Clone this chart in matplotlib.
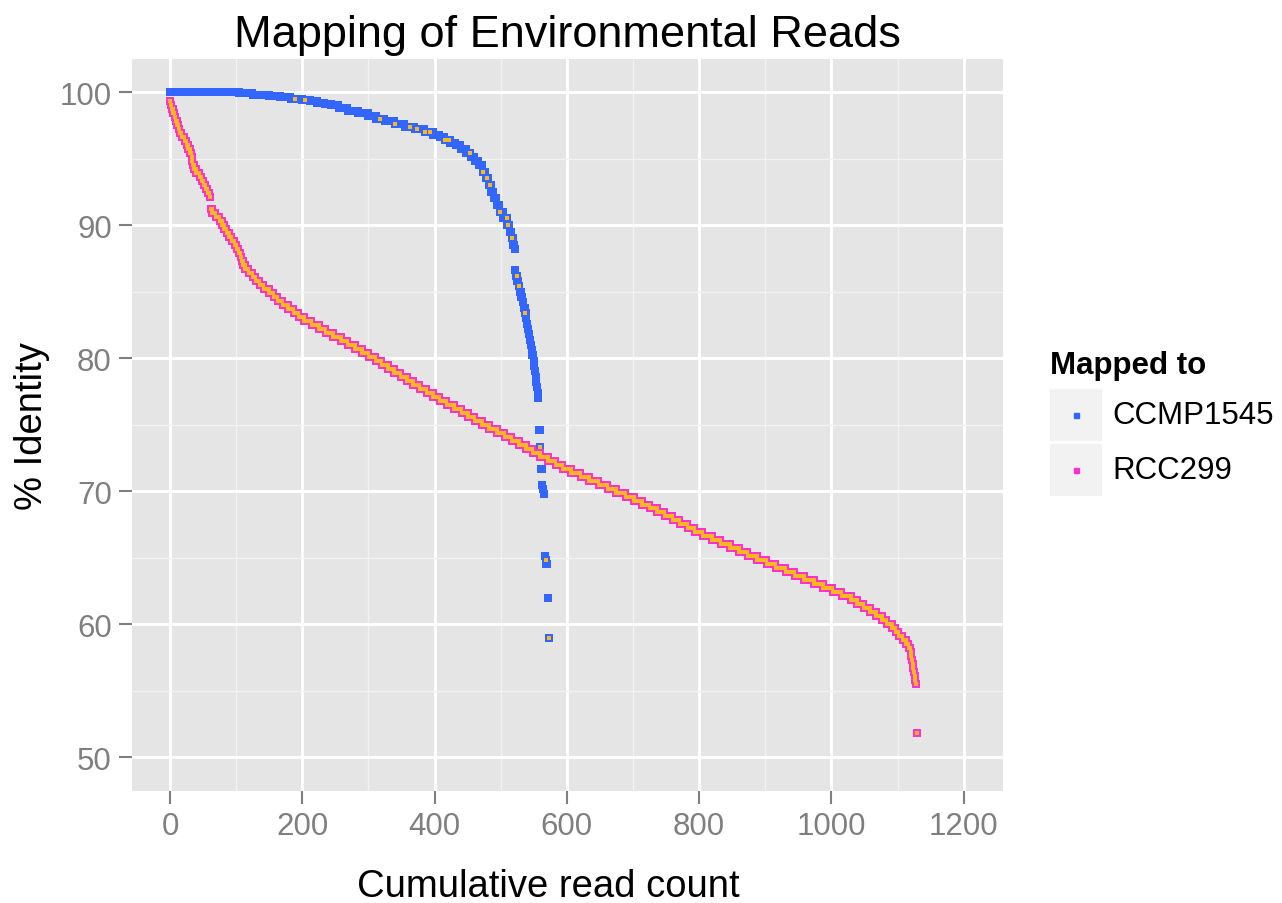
import numpy as np
import matplotlib.pyplot as plt
from matplotlib.patches import Rectangle
from matplotlib.lines import Line2D

plt.rcParams['font.family'] = ['Liberation Sans', 'DejaVu Sans']

# --- Datos: % identidad de las lecturas, ordenada de mayor a menor ---
# cada nivel de identidad con el nº de lecturas que caen en él
ccmp_identity = [100.0, 99.9, 99.8, 99.7, 99.6, 99.5, 99.4, 99.3, 99.2, 99.1,
                 99.0, 98.8, 98.6, 98.4, 98.2, 98.0, 97.8, 97.6, 97.4, 97.2,
                 97.0, 96.8, 96.6, 96.4, 96.2, 96.0, 95.7, 95.4, 95.1, 94.8,
                 94.5, 94.0, 93.5, 93.0, 92.5, 92.0, 91.5, 91.0, 90.5, 90.0,
                 89.5, 89.0, 88.5, 88.2, 86.6, 86.2, 85.8, 85.4, 85.0, 84.6,
                 84.2, 83.8, 83.4, 83.0, 82.6, 82.2, 81.8, 81.4, 81.0, 80.6,
                 80.2, 79.8, 79.4, 79.0, 78.6, 78.2, 77.8, 77.4, 77.0, 74.6,
                 73.3, 71.7, 70.5, 70.2, 69.8, 65.1, 64.8, 64.5, 62.0, 59.0]
ccmp_counts = [105, 20, 25, 17, 16, 17, 12, 11, 11, 10,
               11, 14, 16, 15, 12, 13, 15, 15, 15, 15,
               13, 10, 8, 8, 8, 8, 8, 7, 6, 6,
               6, 5, 4, 4, 4, 4, 5, 5, 6, 4,
               3, 2, 2, 1, 1, 2, 2, 2, 2, 2,
               2, 2, 2, 1, 1, 2, 1, 2, 1, 1,
               2, 1, 1, 1, 1, 1, 1, 1, 1, 2,
               1, 2, 1, 1, 2, 1, 1, 2, 2, 1]
# lecturas de CCMP1545 que salen con relleno naranja
ccmp_flagged = [189, 204, 317, 340, 363, 373, 385, 393, 416, 422, 453, 473,
                479, 484, 499, 509, 511, 517, 524, 528, 537, 560, 568, 573]

rcc_identity = [99.3, 99.0, 98.7, 98.4, 98.1, 97.8, 97.5, 97.2, 96.9,
                96.6, 96.3, 96.0, 95.7, 95.4, 95.1, 94.8, 94.5, 94.2, 93.9,
                93.6, 93.3, 93.0, 92.7, 92.4, 92.1, 91.2, 90.9,
                90.6, 90.3, 90.0, 89.7, 89.4, 89.1, 88.8, 88.5, 88.2, 87.9,
                87.6, 87.3, 87.0, 86.7, 86.4, 86.1, 85.8, 85.5, 85.2, 84.9, 84.6,
                84.3, 84.0, 83.7, 83.4, 83.1,
                82.8, 82.5, 82.2, 81.9, 81.6, 81.3, 81.0, 80.7, 80.4,
                80.1, 79.8, 79.5, 79.2, 78.9, 78.6, 78.3, 78.0, 77.7, 77.4,
                77.1, 76.8, 76.5, 76.2, 75.9, 75.6, 75.3, 75.0, 74.7,
                74.4, 74.1, 73.8, 73.5, 73.2, 72.9, 72.6, 72.3, 72.0,
                71.7, 71.4, 71.1, 70.8, 70.5, 70.2, 69.9, 69.6,
                69.3, 69.0, 68.7, 68.4, 68.1, 67.8, 67.5, 67.2, 66.9,
                66.6, 66.3, 66.0, 65.7, 65.4, 65.1, 64.8,
                64.5, 64.2, 63.9, 63.6, 63.3, 63.0, 62.7,
                62.4, 62.1, 61.8, 61.5, 61.2, 60.9, 60.6, 60.3, 60.0,
                59.7, 59.4, 59.1, 58.8, 58.5, 58.2,
                57.9, 57.6, 57.3, 57.0, 56.7, 56.4, 56.1, 55.8, 55.5, 51.8]
rcc_counts = [1, 2, 2, 2, 2, 2, 2, 2, 3,
              4, 3, 3, 3, 2, 1, 1, 2, 3, 5,
              3, 3, 3, 3, 3, 2, 2, 5,
              6, 4, 3, 4, 4, 4, 4, 3, 3, 3,
              2, 2, 3, 5, 6, 5, 6, 6, 8, 7, 6,
              8, 8, 8, 8, 8,
              11, 12, 10, 11, 12, 10, 11, 11, 10,
              10, 9, 10, 9, 10, 10, 9, 10, 10, 10,
              10, 11, 11, 11, 10, 10, 11, 11, 12,
              11, 11, 11, 11, 10, 11, 12, 11, 11,
              13, 14, 13, 14, 14, 13, 14, 13,
              12, 11, 12, 11, 12, 11, 12, 11, 12,
              14, 13, 14, 14, 13, 14, 14,
              14, 15, 14, 14, 15, 14, 14,
              14, 14, 9, 10, 10, 9, 9, 7, 8,
              5, 5, 6, 5, 4, 3,
              1, 1, 1, 1, 1, 1, 1, 1, 1, 1]

series_names = ["CCMP1545", "RCC299"]
x_ticks = [0, 200, 400, 600, 800, 1000, 1200]
y_ticks = [50, 60, 70, 80, 90, 100]

blue = "#3366FF"
pink = "#FF33CC"
orange = "#F9B820"

# x = recuento acumulado de lecturas
ccmp_y = np.repeat(ccmp_identity, ccmp_counts)
ccmp_x = np.arange(len(ccmp_y))
rcc_y = np.repeat(rcc_identity, rcc_counts)
rcc_x = np.arange(len(rcc_y))
flag = np.array(ccmp_flagged)

W, H = 1282, 904
fig = plt.figure(figsize=(W / 100, H / 100), dpi=100)
ax = fig.add_axes([132 / W, 1 - 792 / H, (1003 - 132) / W, (792 - 60) / H])
ax.set_facecolor("#E5E5E5")

# puntos: cuadrado de color con centro naranja
ax.scatter(ccmp_x, ccmp_y, marker="s", s=28, color=blue, linewidths=0, zorder=3)
ax.scatter(ccmp_x[flag], ccmp_y[flag], marker="s", s=8, color=orange, linewidths=0, zorder=4)
ax.scatter(rcc_x, rcc_y, marker="s", s=30, color=pink, linewidths=0, zorder=5)
ax.scatter(rcc_x, rcc_y, marker="s", s=9, color=orange, linewidths=0, zorder=6)

ax.set_xlim(-57.4, 1259.4)
ax.set_ylim(47.47, 102.48)
ax.set_xticks(x_ticks)
ax.set_yticks(y_ticks)
ax.set_xticks([100, 300, 500, 700, 900, 1100], minor=True)
ax.set_yticks([55, 65, 75, 85, 95], minor=True)
ax.grid(True, which="major", color="white", linewidth=2.1, zorder=1)
ax.grid(True, which="minor", color="#F2F2F2", linewidth=1.0, zorder=1)
ax.set_axisbelow(True)
for s in ax.spines.values():
    s.set_visible(False)

ax.tick_params(which="major", length=9.5, width=1.5, color="#7F7F7F",
               labelcolor="#7F7F7F", labelsize=22.5)
ax.tick_params(axis="x", pad=5)
ax.tick_params(axis="y", pad=5)
ax.tick_params(which="minor", length=0)

ax.set_title("Mapping of Environmental Reads", fontsize=32.5, pad=9)
ax.set_xlabel("Cumulative read count", fontsize=27.5, labelpad=14)
ax.xaxis.set_label_coords((548 - 132) / (1003 - 132), -0.105)
ax.set_ylabel("% Identity", fontsize=27.5, labelpad=7)

# leyenda manual al estilo ggplot
def fx(px):
    return px / W

def fy(py):
    return 1 - py / H

fig.text(fx(1050), fy(366), "Mapped to", fontsize=22.5, fontweight="bold",
         va="center", ha="left")
key_tops = [390, 445]
for name, col, top in zip(series_names, [blue, pink], key_tops):
    fig.add_artist(Rectangle((fx(1050), fy(top + 52)), fx(52), 52 / H,
                             transform=fig.transFigure, facecolor="#F2F2F2",
                             edgecolor="none"))
    fig.add_artist(Line2D([fx(1076)], [fy(top + 26)], transform=fig.transFigure,
                          marker="s", markersize=3.6, color=col, linestyle="none"))
    fig.text(fx(1112), fy(top + 26), name, fontsize=22.5, va="center", ha="left")

fig.savefig("out.png", dpi=100)
